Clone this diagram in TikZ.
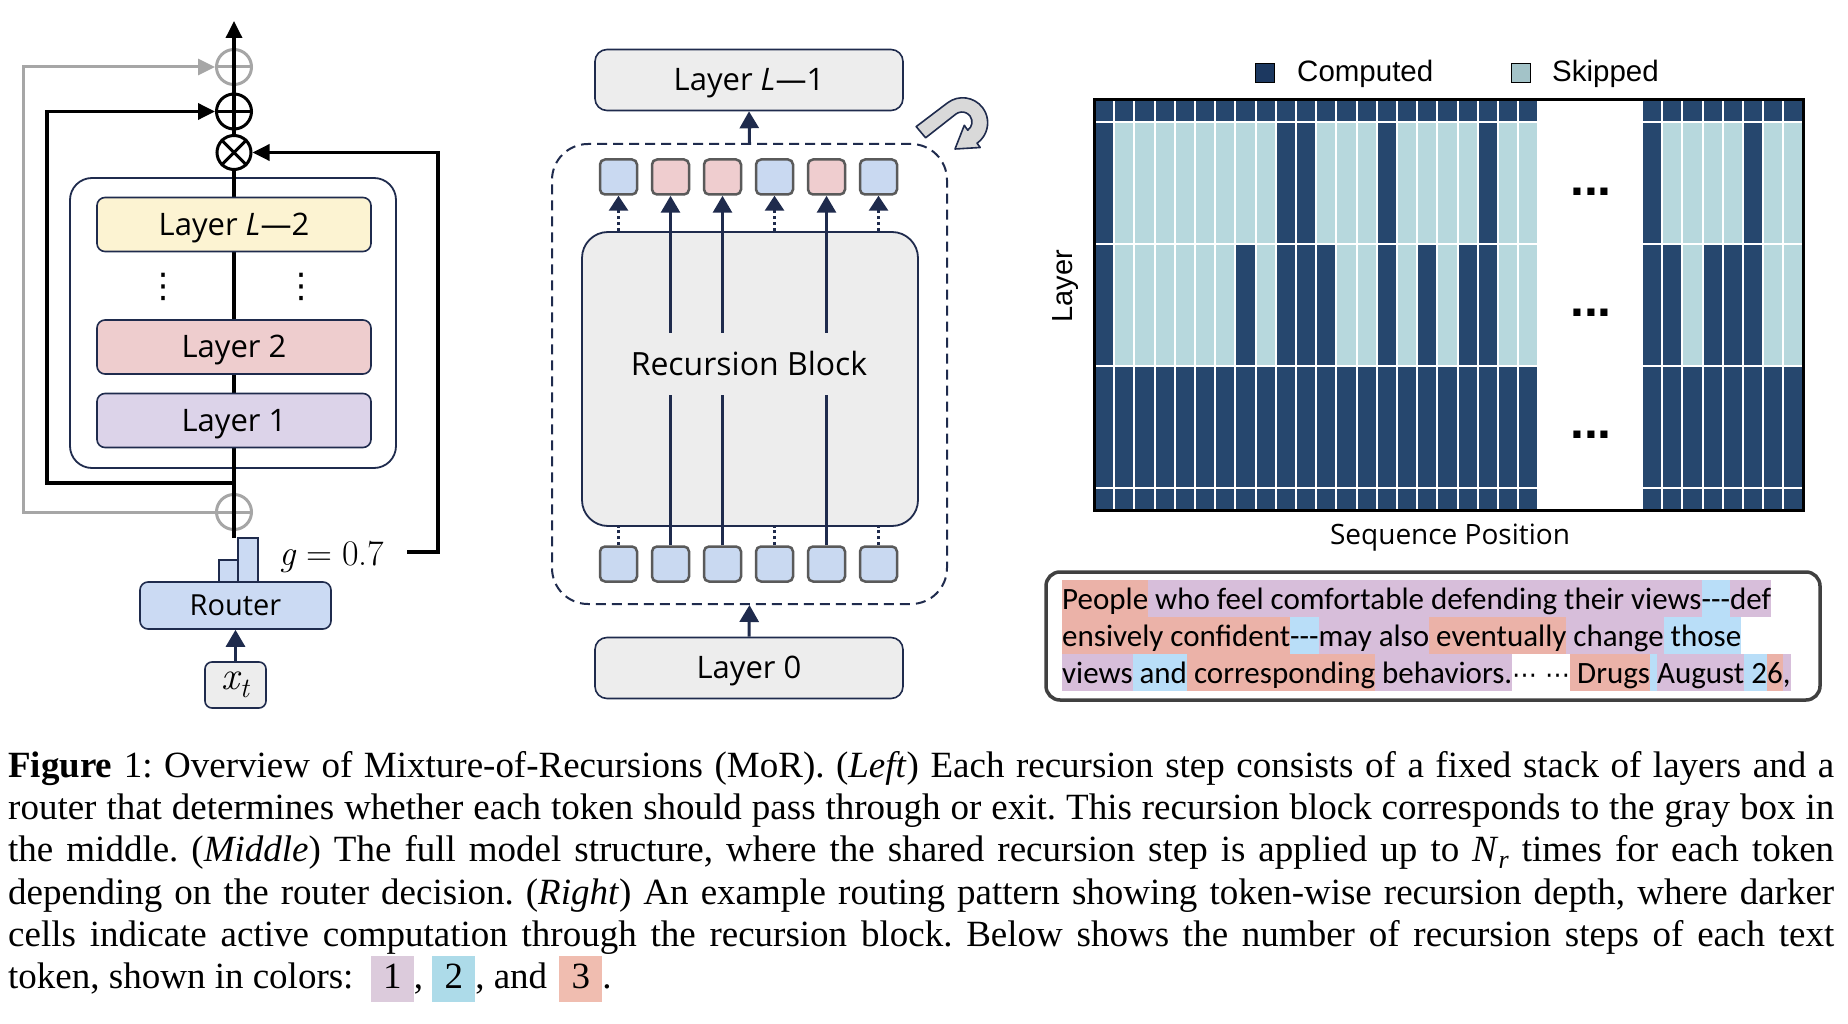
\documentclass[tikz,border=0pt]{standalone}
\usepackage{fontspec}
\setmainfont{Liberation Serif}
\newfontfamily\osans{Open Sans}
\newfontfamily\calib{Carlito}
\newfontfamily\arial{Liberation Sans}
\newfontfamily\dvs{DejaVu Sans}
\newfontfamily\lmr{Latin Modern Roman}
\usetikzlibrary{arrows.meta,calc}
\definecolor{navy}{HTML}{1F2B4D}
\definecolor{layy}{HTML}{FCF3D2}
\definecolor{lpink}{HTML}{EECDCE}
\definecolor{llav}{HTML}{DCD3E9}
\definecolor{rblue}{HTML}{CBDAF3}
\definecolor{lgray}{HTML}{EDEDED}
\definecolor{tokb}{HTML}{C9D9F1}
\definecolor{tokp}{HTML}{EFCDCF}
\definecolor{tokgray}{HTML}{5A5A5A}
\definecolor{gdark}{HTML}{26476E}
\definecolor{glight}{HTML}{B7D8DD}
\definecolor{legdark}{HTML}{1C3860}
\definecolor{leglight}{HTML}{A3C3C8}
\definecolor{hpink}{HTML}{EBB2A8}
\definecolor{hlav}{HTML}{D7BEDA}
\definecolor{hblue}{HTML}{B9DEF8}
\definecolor{cl}{HTML}{DCCBDC}
\definecolor{cb}{HTML}{ADDBE9}
\definecolor{cp}{HTML}{F0BDB0}
\definecolor{linegray}{HTML}{A6A6A6}
\definecolor{arrowgray}{HTML}{D9D9D9}
\definecolor{boxgray}{HTML}{404040}
\newcommand{\hl}[2]{{\setlength{\fboxsep}{0pt}\colorbox{#1}{\rule[-7pt]{0pt}{37pt}#2}}}
\newcommand{\chl}[2]{{\setlength{\fboxsep}{0pt}\colorbox{#1}{\makebox[43pt]{\rule[-14pt]{0pt}{46pt}#2}}}}
\newcommand{\capline}[1]{\makebox[1826pt][s]{#1}}
\frenchspacing
\tikzset{
  lay/.style={draw=navy, line width=1.6pt, rounded corners=8pt, inner sep=0pt,
    font=\osans\fontsize{31}{36}\selectfont, minimum width=274pt, minimum height=54pt, text depth=0.08em},
  mbox/.style={draw=navy, line width=1.6pt, rounded corners=12pt, fill=lgray, inner sep=0pt,
    font=\osans\fontsize{31}{36}\selectfont, minimum width=308pt, minimum height=61pt, text depth=0.06em},
  tok/.style={draw=tokgray, line width=2.5pt, rounded corners=5pt, minimum width=37pt,
    minimum height=35pt, inner sep=0pt},
  opl/.style={circle, line width=3pt, minimum size=35pt, inner sep=0pt},
  blkarr/.style={line width=3.5pt, -{Triangle[length=17pt,width=16pt]}},
  grayarr/.style={line width=3pt, draw=linegray, -{Triangle[length=17pt,width=16pt]}},
  navyarr/.style={draw=navy, line width=3pt, -{Triangle[length=17pt,width=19pt]}},
  navyl/.style={draw=navy, line width=3pt},
  dotl/.style={draw=navy, line width=3pt, dash pattern=on 3pt off 3pt},
  dotarr/.style={draw=navy, line width=3pt, dash pattern=on 3pt off 3pt, -{Triangle[length=15pt,width=19pt]}},
  capt/.style={anchor=base west, inner sep=0pt, font=\fontsize{37}{42}\selectfont},
  tline/.style={anchor=base west, inner sep=0pt, font=\calib\fontsize{31}{37}\selectfont},
}
\begin{document}
\begin{tikzpicture}[x=1pt,y=-1pt]
\useasboundingbox (0,0) rectangle (1848,1024);
\fill[white] (0,0) rectangle (1848,1024);

% ================= LEFT =================
\node[draw=navy, line width=1.8pt, fill=white, rounded corners=22pt, minimum width=326pt, minimum height=290pt] (ob) at (233,323) {};
\node[opl, draw=linegray] (gt) at (234,67) {};
\node[opl, draw=black] (bp) at (234,111.5) {};
\node[opl, draw=black, minimum size=34pt] (ot) at (234,152.5) {};
\node[opl, draw=linegray] (gb) at (234,512) {};
\coordinate (mstart) at (234,538);
\coordinate (mtop) at (234,21);
\coordinate (bjoin) at (234,483);
\coordinate (bcorner) at (47,111.5);
\coordinate (gcorner) at (23,67);
\coordinate (gstart) at (407,552);
\coordinate (gcorner2) at (438,152.5);
% plus / cross marks
\draw[line width=3pt, linegray] (gt.west) -- (gt.east);
\draw[line width=3pt, linegray] (gb.west) -- (gb.east);
\draw[line width=3pt] (bp.west) -- (bp.east);
\draw[line width=3pt] (ot.north west) -- (ot.south east) (ot.north east) -- (ot.south west);
% connectors
\draw[grayarr] (gb.west) -| (gcorner) -- (gt.west);
\draw[line width=3.5pt] (mstart) -- (ot.south);
\draw[blkarr] (ot.north) -- (mtop);
\draw[blkarr] (bjoin) -| (bcorner) -- (bp.west);
\draw[blkarr] (gstart) -| (gcorner2) -- (ot.east);
% layers
\node[lay, fill=layy] (lL2) at (234,224.5) {Layer \textit{L}—2};
\node[lay, fill=lpink] (l2) at (234,347) {Layer 2};
\node[lay, fill=llav] (l1) at (234,420.5) {Layer 1};
\node[font=\dvs\fontsize{34}{34}\selectfont, inner sep=0pt] (dl) at (163,287) {⋮};
\node[font=\dvs\fontsize{34}{34}\selectfont, inner sep=0pt] (dr) at (301,287) {⋮};
% router
\draw[fill=rblue, draw=navy, line width=1.4pt] (219,560) rectangle (238,582);
\draw[fill=rblue, draw=navy, line width=1.4pt] (238,538) rectangle (258,582);
\node[draw=navy, line width=1.6pt, rounded corners=8pt, fill=rblue, minimum width=191pt, minimum height=47pt, inner sep=0pt, text depth=0.05em, font=\osans\fontsize{29}{34}\selectfont] (router) at (235.5,605.5) {Router};
\node[draw=navy, line width=1.6pt, rounded corners=7pt, fill=lgray, minimum width=61pt, minimum height=46pt, inner sep=0pt, font=\lmr\fontsize{40}{44}\selectfont] (xt) at (235.5,685) {\itshape x\raisebox{-0.2em}{\fontsize{28}{28}\selectfont t}};
\draw[navyarr] (xt.north) -- (router.south);
\node[anchor=base west, inner sep=0pt, font=\lmr\fontsize{36}{40}\selectfont] (gval) at (279,565) {\textit{g}\hspace{0.28em}=\hspace{0.28em}0.7};

% ================= MIDDLE =================
\node[mbox] (L1) at (749,80) {Layer \textit{L}—1};
\node[mbox] (L0) at (749,668) {Layer 0};
\node[draw=navy, line width=2pt, dash pattern=on 10pt off 6pt, rounded corners=36pt, minimum width=395pt, minimum height=460pt] (dash) at (749.5,374) {};
\node[draw=navy, line width=1.8pt, fill=lgray, rounded corners=26pt, minimum width=336pt, minimum height=294pt] (rb) at (750,379) {};
\node[font=\osans\fontsize{32}{38}\selectfont, inner sep=0pt] (rbt) at (749,364) {Recursion Block};
\draw[navyarr] (dash.north) -- (L1.south);
\draw[navyarr] (L0.north) -- (dash.south);
\foreach \k/\cc in {1/tokb,2/tokp,3/tokp,4/tokb,5/tokp,6/tokb}{
  \node[tok, fill=\cc] (t\k) at ({618.5+(\k-1)*52},177) {};
  \node[tok, fill=tokb] (b\k) at ({618.5+(\k-1)*52},564) {};
}
\coordinate (gapt) at (749,333);
\coordinate (gapb) at (749,394.5);
\foreach \k in {2,3,5}{
  \draw[navyl] (b\k.north) -- (b\k.north |- gapb);
  \draw[navyarr] (t\k.south |- gapt) -- (t\k.south);
}
\foreach \k in {1,4,6}{
  \draw[dotl] (b\k.north) -- (b\k.north |- rb.south);
  \draw[dotarr] (t\k.south |- rb.north) -- (t\k.south);
}
% curved arrow icon
\draw[fill=arrowgray, draw=navy, line width=1.6pt, line join=round]
  (916.2,126.6) -- (947.6,102.8) arc[start angle=-127, end angle=55, radius=25]
  -- (980.2,147.5) -- (955,149) -- (964.3,125.3) -- (967.7,130.2)
  arc[start angle=55, end angle=-127, radius=10] -- (925.6,137.8) -- cycle;

% ================= RIGHT =================
\node[draw=black, line width=0.8pt, fill=legdark, minimum size=19pt, inner sep=0pt] (lgc) at (1265,72.5) {};
\node[anchor=base west, inner sep=0pt, font=\arial\fontsize{29.5}{34}\selectfont] (lgct) at (1297,82) {Computed};
\node[draw=black, line width=0.8pt, fill=leglight, minimum size=19pt, inner sep=0pt] (lgs) at (1521,72.5) {};
\node[anchor=base west, inner sep=0pt, font=\arial\fontsize{29.5}{34}\selectfont] (lgst) at (1552,82) {Skipped};
\def\cw{20.2}
\def\xl{1094}
\def\xr{1642}
\foreach \ya/\yb/\base in {100/122/gdark,122/244/glight,244/366/glight,366/488/gdark,488/510/gdark}{
  \foreach \i in {1,...,22}{
    \fill[\base] ({\xl+(\i-1)*\cw+1},\ya+1) rectangle ({\xl+\i*\cw-1},\yb-1);
  }
  \foreach \j in {1,...,8}{
    \fill[\base] ({\xr+(\j-1)*\cw+1},\ya+1) rectangle ({\xr+\j*\cw-1},\yb-1);
  }
}
\foreach \i in {1,10,11,15,20}{
  \fill[gdark] ({\xl+(\i-1)*\cw+1},123) rectangle ({\xl+\i*\cw-1},243);
}
\foreach \j in {1,6}{
  \fill[gdark] ({\xr+(\j-1)*\cw+1},123) rectangle ({\xr+\j*\cw-1},243);
}
\foreach \i in {1,8,10,11,12,15,17,19,20}{
  \fill[gdark] ({\xl+(\i-1)*\cw+1},245) rectangle ({\xl+\i*\cw-1},365);
}
\foreach \j in {1,2,4,5,6}{
  \fill[gdark] ({\xr+(\j-1)*\cw+1},245) rectangle ({\xr+\j*\cw-1},365);
}
\draw[line width=3pt] (\xl,100) rectangle ({\xr+8*\cw},510);
\foreach \yy in {196,317,438}{
  \node[anchor=base, inner sep=0pt, font=\arial\bfseries\fontsize{50}{50}\selectfont] at (1591,\yy) {...};
}
\node[rotate=90, inner sep=0pt, font=\arial\fontsize{29}{34}\selectfont] (ylab) at (1066,286) {Layer};
\node[inner sep=0pt, font=\osans\fontsize{28}{34}\selectfont] (xlab) at (1450,538) {Sequence Position};

% text box
\node[draw=boxgray, line width=3.5pt, rounded corners=14pt, minimum width=774pt, minimum height=128pt] (tbox) at (1433,636) {};
\node[tline] (tl1) at (1062,609.5) {\hl{hpink}{People}\hl{hlav}{\ who feel comfortable defending their views}\hl{hblue}{-{}-{}-}\hl{hlav}{def}};
\node[tline] (tl2) at (1062,646.5) {\hl{hpink}{ensively}\hl{hpink}{\ confident}\hl{hblue}{-{}-{}-}\hl{hlav}{may also}\hl{hpink}{\ eventually}\hl{hlav}{\ change}\hl{hblue}{\ those}};
\node[tline] (tl3) at (1062,683.5) {\hl{hlav}{views}\hl{hblue}{\ and}\hl{hpink}{\ corresponding}\hl{hlav}{\ behaviors.}{\dvs\fontsize{25}{25}\selectfont ⋯\ ⋯}\hl{hpink}{\ Drugs}\hl{hblue}{\ }\hl{hlav}{August}\hl{hblue}{\ 2}\hl{hpink}{6}\hl{hlav}{,}};

% ================= CAPTION =================
\node[capt] (c1) at (8,777) {\capline{\textbf{Figure} 1: Overview of Mixture-of-Recursions (MoR). (\textit{Left}) Each recursion step consists of a fixed stack of layers and a}};
\node[capt] (c2) at (8,819) {\capline{router that determines whether each token should pass through or exit. This recursion block corresponds to the gray box in}};
\node[capt] (c3) at (8,861) {\capline{the middle. (\textit{Middle}) The full model structure, where the shared recursion step is applied up to \textit{N}\raisebox{-0.2em}{\fontsize{26}{26}\selectfont\textit{r}} times for each token}};
\node[capt] (c4) at (8,904) {\capline{depending on the router decision. (\textit{Right}) An example routing pattern showing token-wise recursion depth, where darker}};
\node[capt] (c5) at (8,946) {\capline{cells indicate active computation through the recursion block. Below shows the number of recursion steps of each text}};
\node[capt] (c6) at (8,988) {token, shown in colors:\hspace{8pt} \chl{cl}{1}, \chl{cb}{2}, and\hspace{3pt} \chl{cp}{3}.};
\end{tikzpicture}
\end{document}
